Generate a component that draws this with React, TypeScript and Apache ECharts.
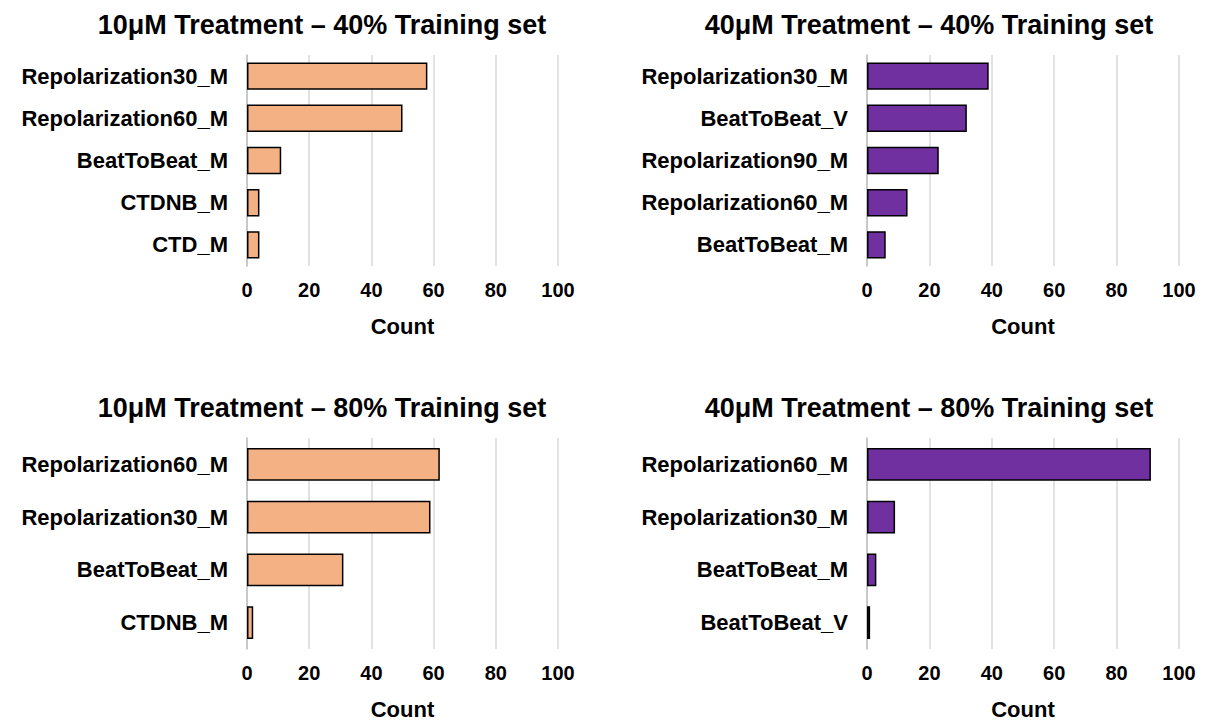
import React, { useEffect, useRef } from "react";
import * as echarts from "echarts";

const titles = [
  "10μM Treatment – 40% Training set",
  "40μM Treatment – 40% Training set",
  "10μM Treatment – 80% Training set",
  "40μM Treatment – 80% Training set",
];

const cats1 = ["Repolarization30_M", "Repolarization60_M", "BeatToBeat_M", "CTDNB_M", "CTD_M"];
const vals1 = [58, 50, 11, 4, 4];

const cats2 = ["Repolarization30_M", "BeatToBeat_V", "Repolarization90_M", "Repolarization60_M", "BeatToBeat_M"];
const vals2 = [39, 32, 23, 13, 6];

const cats3 = ["Repolarization60_M", "Repolarization30_M", "BeatToBeat_M", "CTDNB_M"];
const vals3 = [62, 59, 31, 2];

const cats4 = ["Repolarization60_M", "Repolarization30_M", "BeatToBeat_M", "BeatToBeat_V"];
const vals4 = [91, 9, 3, 1];

const xTicks = [0, 20, 40, 60, 80, 100];
const axisName = "Count";

const PEACH = "#F4B183";
const PURPLE = "#7030A0";
const FONT = "Liberation Sans, Arial, sans-serif";

export default function App() {
  const ref = useRef<HTMLDivElement>(null);
  useEffect(() => {
    document.body.style.margin = "0";
    const chart = echarts.init(ref.current!, null, { renderer: "svg" });
    const cats = [cats1, cats2, cats3, cats4];
    const vals = [vals1, vals2, vals3, vals4];
    const colors = [PEACH, PURPLE, PEACH, PURPLE];
    const grids = [
      { left: 247, width: 311, top: 55, height: 211 },
      { left: 867, width: 312, top: 55, height: 211 },
      { left: 247, width: 311, top: 438, height: 211 },
      { left: 867, width: 312, top: 438, height: 211 },
    ];
    const titleX = [322, 929, 322, 929];
    const titleY = [25, 25, 408, 408];
    const gaps = ["35%", "35%", "38%", "38%"];
    const option: any = {
      animation: false,
      backgroundColor: "#ffffff",
      textStyle: { fontFamily: FONT },
      grid: grids.map((g) => ({ ...g, containLabel: false })),
      xAxis: grids.map((_, i) => ({
        type: "value",
        gridIndex: i,
        min: xTicks[0],
        max: xTicks[xTicks.length - 1],
        interval: 20,
        name: axisName,
        nameLocation: "middle",
        nameGap: 49,
        nameTextStyle: { fontFamily: FONT, fontWeight: "bold", fontSize: 22, color: "#000" },
        axisLine: { show: false },
        axisTick: { show: false },
        axisLabel: { fontFamily: FONT, fontWeight: "bold", fontSize: 20, color: "#000", margin: 14 },
        splitLine: { show: true, lineStyle: { color: "#d9d9d9", width: 1.5 } },
      })),
      yAxis: grids.map((_, i) => ({
        type: "category",
        gridIndex: i,
        data: cats[i],
        inverse: true,
        axisLine: { show: true, lineStyle: { color: "#bfbfbf", width: 1.5 } },
        axisTick: { show: false },
        axisLabel: { fontFamily: FONT, fontWeight: "bold", fontSize: 22, color: "#000", margin: 19 },
        splitLine: { show: false },
      })),
      series: grids.map((_, i) => ({
        type: "bar",
        xAxisIndex: i,
        yAxisIndex: i,
        data: vals[i],
        barCategoryGap: gaps[i],
        itemStyle: { color: colors[i], borderColor: "#000", borderWidth: 1.5 },
      })),
      graphic: titles.map((t, i) => ({
        type: "text",
        x: titleX[i],
        y: titleY[i],
        style: {
          text: t,
          fontFamily: FONT,
          fontWeight: "bold",
          fontSize: 27,
          fill: "#000",
          textAlign: "center",
          textVerticalAlign: "middle",
        },
      })),
    };
    chart.setOption(option);
    return () => chart.dispose();
  }, []);
  return <div ref={ref} style={{ width: 1206, height: 722 }} />;
}
